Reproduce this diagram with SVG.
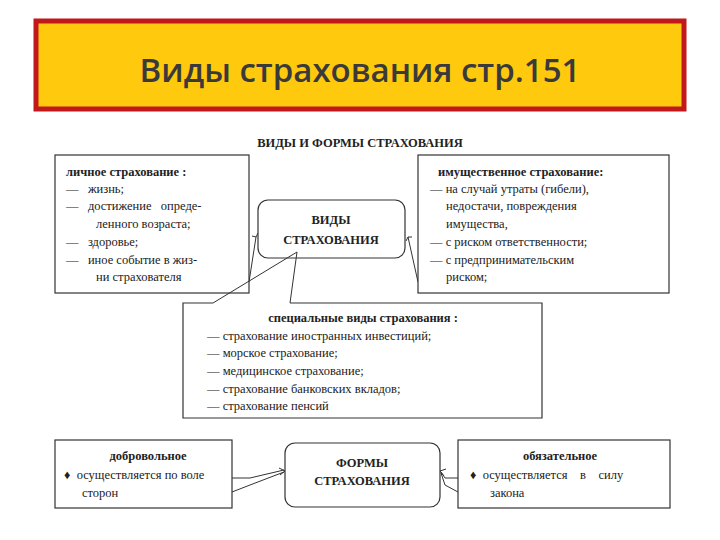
<svg xmlns="http://www.w3.org/2000/svg" width="720" height="540" viewBox="0 0 720 540">
<style>
.t{font-family:"Liberation Serif","Times New Roman",serif;font-size:12.5px;fill:#222;white-space:pre}
.b{font-weight:bold}
.bx{fill:#fff;stroke:#333;stroke-width:1.2}
.ln{stroke:#333;stroke-width:1;fill:none}
</style>
<rect width="720" height="540" fill="#fff"/>
<g id="banner">
<rect x="36" y="21" width="648" height="88" fill="#FFC90E" stroke="#C0181B" stroke-width="5"/>
<text x="360" y="82" text-anchor="middle" style="font-family:'Open Sans',sans-serif;font-size:33px;font-weight:600;fill:#3a3a3a">Виды страхования стр.151</text>
</g>
<text class="t b" x="360" y="147" text-anchor="middle" font-size="13">ВИДЫ И ФОРМЫ СТРАХОВАНИЯ</text>
<g id="connectors">
<path class="ln" d="M249 282 L256 237 M252 236 L256 237 L258 233"/>
<path class="ln" d="M418 282 L408 237 M406 241 L408 237 L412 237"/>
<path class="ln" d="M232 478 L250 478 L284 470 M232 492 L250 485 L284 472 M279 468 L285 471 L280 475"/>
<path class="ln" d="M458 478 L445 478 L441 472 M458 492 L445 485 L441 473 M446 469 L440 471 L444 476"/>
</g>
<g id="lichnoe">
<rect class="bx" x="55" y="155" width="194" height="138"/>
<text class="t b" x="66" y="176">личное страхование :</text>
<text class="t" x="66" y="193">—   жизнь;</text>
<text class="t" x="66" y="210">—   достижение   опреде-</text>
<text class="t" x="96" y="228">ленного возраста;</text>
<text class="t" x="66" y="246">—   здоровье;</text>
<text class="t" x="66" y="264">—   иное событие в жиз-</text>
<text class="t" x="96" y="281">ни страхователя</text>
</g>
<g id="vidy">
<rect class="bx" x="258" y="200" width="147" height="58" rx="10"/>
<text class="t b" x="331" y="224" text-anchor="middle" font-size="13">ВИДЫ</text>
<text class="t b" x="331" y="244" text-anchor="middle" font-size="13">СТРАХОВАНИЯ</text>
</g>
<g id="imush">
<rect class="bx" x="418" y="155" width="251" height="138"/>
<text class="t b" x="438" y="176">имущественное страхование:</text>
<text class="t" x="430" y="193">— на случай утраты (гибели),</text>
<text class="t" x="446" y="210">недостачи, повреждения</text>
<text class="t" x="446" y="228">имущества,</text>
<text class="t" x="430" y="246">— с риском ответственности;</text>
<text class="t" x="430" y="264">— с предпринимательским</text>
<text class="t" x="446" y="281">риском;</text>
</g>
<g id="special">
<path class="bx" d="M213 303 L183 303 L183 418 L542 418 L542 303 L290 303"/>
<path class="ln" d="M213 303 L297 252 L290 303"/>
<text class="t b" x="363" y="322" text-anchor="middle">специальные виды страхования :</text>
<text class="t" x="207" y="340">— страхование иностранных инвестиций;</text>
<text class="t" x="207" y="357">— морское страхование;</text>
<text class="t" x="207" y="375">— медицинское страхование;</text>
<text class="t" x="207" y="393">— страхование банковских вкладов;</text>
<text class="t" x="207" y="410">— страхование пенсий</text>
</g>
<g id="dobr">
<rect class="bx" x="55" y="440" width="177" height="68"/>
<text class="t b" x="148" y="460" text-anchor="middle">добровольное</text>
<text class="t" x="64" y="479">♦  осуществляется по воле</text>
<text class="t" x="82" y="497">сторон</text>
</g>
<g id="formy">
<rect class="bx" x="285" y="443" width="155" height="64" rx="10"/>
<text class="t b" x="362" y="467" text-anchor="middle" font-size="13">ФОРМЫ</text>
<text class="t b" x="362" y="485" text-anchor="middle" font-size="13">СТРАХОВАНИЯ</text>
</g>
<g id="obyaz">
<rect class="bx" x="458" y="440" width="212" height="68"/>
<text class="t b" x="560" y="460" text-anchor="middle">обязательное</text>
<text class="t" x="470" y="479">♦  осуществляется    в    силу</text>
<text class="t" x="490" y="497">закона</text>
</g>
</svg>
